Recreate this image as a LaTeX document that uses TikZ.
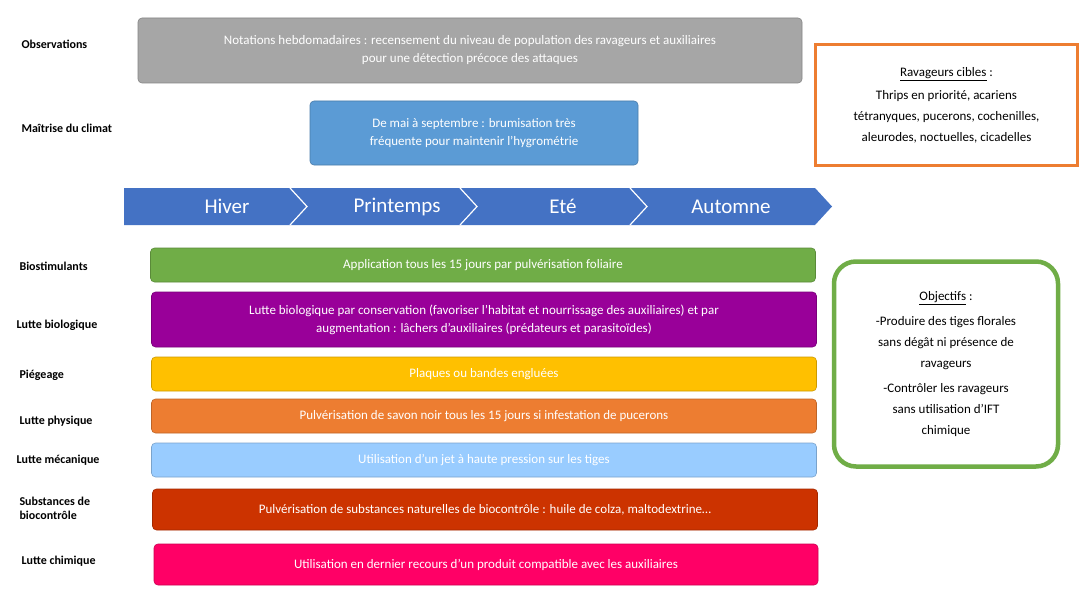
\documentclass[tikz,border=0pt]{standalone}
\usepackage{fontspec}
\setmainfont{Carlito}
\begin{document}
\begin{tikzpicture}[x=1pt,y=-1pt,
 lab/.style={anchor=west,font=\fontsize{12}{14}\selectfont\bfseries,align=left},
 bar/.style={rounded corners=4pt,draw=#1!80!black,fill=#1,text=white,font=\fontsize{13}{18}\selectfont,align=center,line width=0.6pt},
 season/.style={text=white,font=\fontsize{21}{24}\selectfont}]
\useasboundingbox[fill=white] (0,0) rectangle (1092,607);
\definecolor{gr}{HTML}{A6A6A6}\definecolor{bl}{HTML}{5B9BD5}\definecolor{ar}{HTML}{4472C4}
\definecolor{og}{HTML}{ED7D31}\definecolor{gn}{HTML}{70AD47}\definecolor{pu}{HTML}{990099}
\definecolor{ye}{HTML}{FFC000}\definecolor{lb}{HTML}{99CCFF}\definecolor{rd}{HTML}{CC3300}\definecolor{pk}{HTML}{FF0066}
% labels
\node[lab] (l1) at (18,44) {Observations};
\node[lab] (l2) at (18,128) {Maîtrise du climat};
\node[lab] (l3) at (16,266) {Biostimulants};
\node[lab] (l4) at (13,325) {Lutte biologique};
\node[lab] (l5) at (16,375) {Piégeage};
\node[lab] (l6) at (16,421) {Lutte physique};
\node[lab] (l7) at (13,460) {Lutte mécanique};
\node[lab] (l8) at (16,508) {Substances de\\biocontrôle};
\node[lab] (l9) at (18,561) {Lutte chimique};
% top boxes
\node[bar=gr,minimum width=664pt,minimum height=65pt] (obs) at (470,50.5) {Notations hebdomadaires : recensement du niveau de population des ravageurs et auxiliaires\\pour une détection précoce des attaques};
\node[bar=bl,minimum width=328pt,minimum height=64pt] (clim) at (474,133) {De mai à septembre : brumisation très\\fréquente pour maintenir l’hygrométrie};
% arrow band
\fill[ar] (124,188) -- (815,188) -- (832,206.5) -- (815,225) -- (124,225) -- cycle;
\foreach \x in {290,460,630} \draw[white,line width=1.2pt] (\x,188) -- (\x+17,206.5) -- (\x,225);
\node[season] (s1) at (227,206.5) {Hiver};
\node[season] (s2) at (397,206.5) {Printemps};
\node[season] (s3) at (563,206.5) {Eté};
\node[season] (s4) at (731,206.5) {Automne};
% bars
\node[bar=gn,minimum width=665pt,minimum height=34pt] (b1) at (483,265) {Application tous les 15 jours par pulvérisation foliaire};
\node[bar=pu,minimum width=665pt,minimum height=55pt] (b2) at (484,319.5) {Lutte biologique par conservation (favoriser l’habitat et nourrissage des auxiliaires) et par\\augmentation : lâchers d’auxiliaires (prédateurs et parasitoïdes)};
\node[bar=ye,minimum width=665pt,minimum height=34pt] (b3) at (484,374) {Plaques ou bandes engluées};
\node[bar=og,minimum width=665pt,minimum height=34pt] (b4) at (484,416) {Pulvérisation de savon noir tous les 15 jours si infestation de pucerons};
\node[bar=lb,minimum width=665pt,minimum height=34pt] (b5) at (484,460) {Utilisation d’un jet à haute pression sur les tiges};
\node[bar=rd,minimum width=665pt,minimum height=41pt] (b6) at (485,509.5) {Pulvérisation de substances naturelles de biocontrôle : huile de colza, maltodextrine…};
\node[bar=pk,minimum width=664pt,minimum height=41pt] (b7) at (486,564.5) {Utilisation en dernier recours d’un produit compatible avec les auxiliaires};
% side boxes
\node[draw=og,line width=3pt,minimum width=262pt,minimum height=121pt,align=center,font=\fontsize{13}{21}\selectfont] (rav) at (946.5,105) {\underline{Ravageurs cibles} :\\[2pt]Thrips en priorité, acariens\\tétranyques, pucerons, cochenilles,\\aleurodes, noctuelles, cicadelles};
\node[draw=gn,line width=4.5pt,rounded corners=22pt,minimum width=224pt,minimum height=205pt,align=center,font=\fontsize{13}{21}\selectfont] (obj) at (946,364) {\underline{Objectifs} :\\[4pt]-Produire des tiges florales\\sans dégât ni présence de\\ravageurs\\[4pt]-Contrôler les ravageurs\\sans utilisation d’IFT\\chimique};
\end{tikzpicture}
\end{document}
